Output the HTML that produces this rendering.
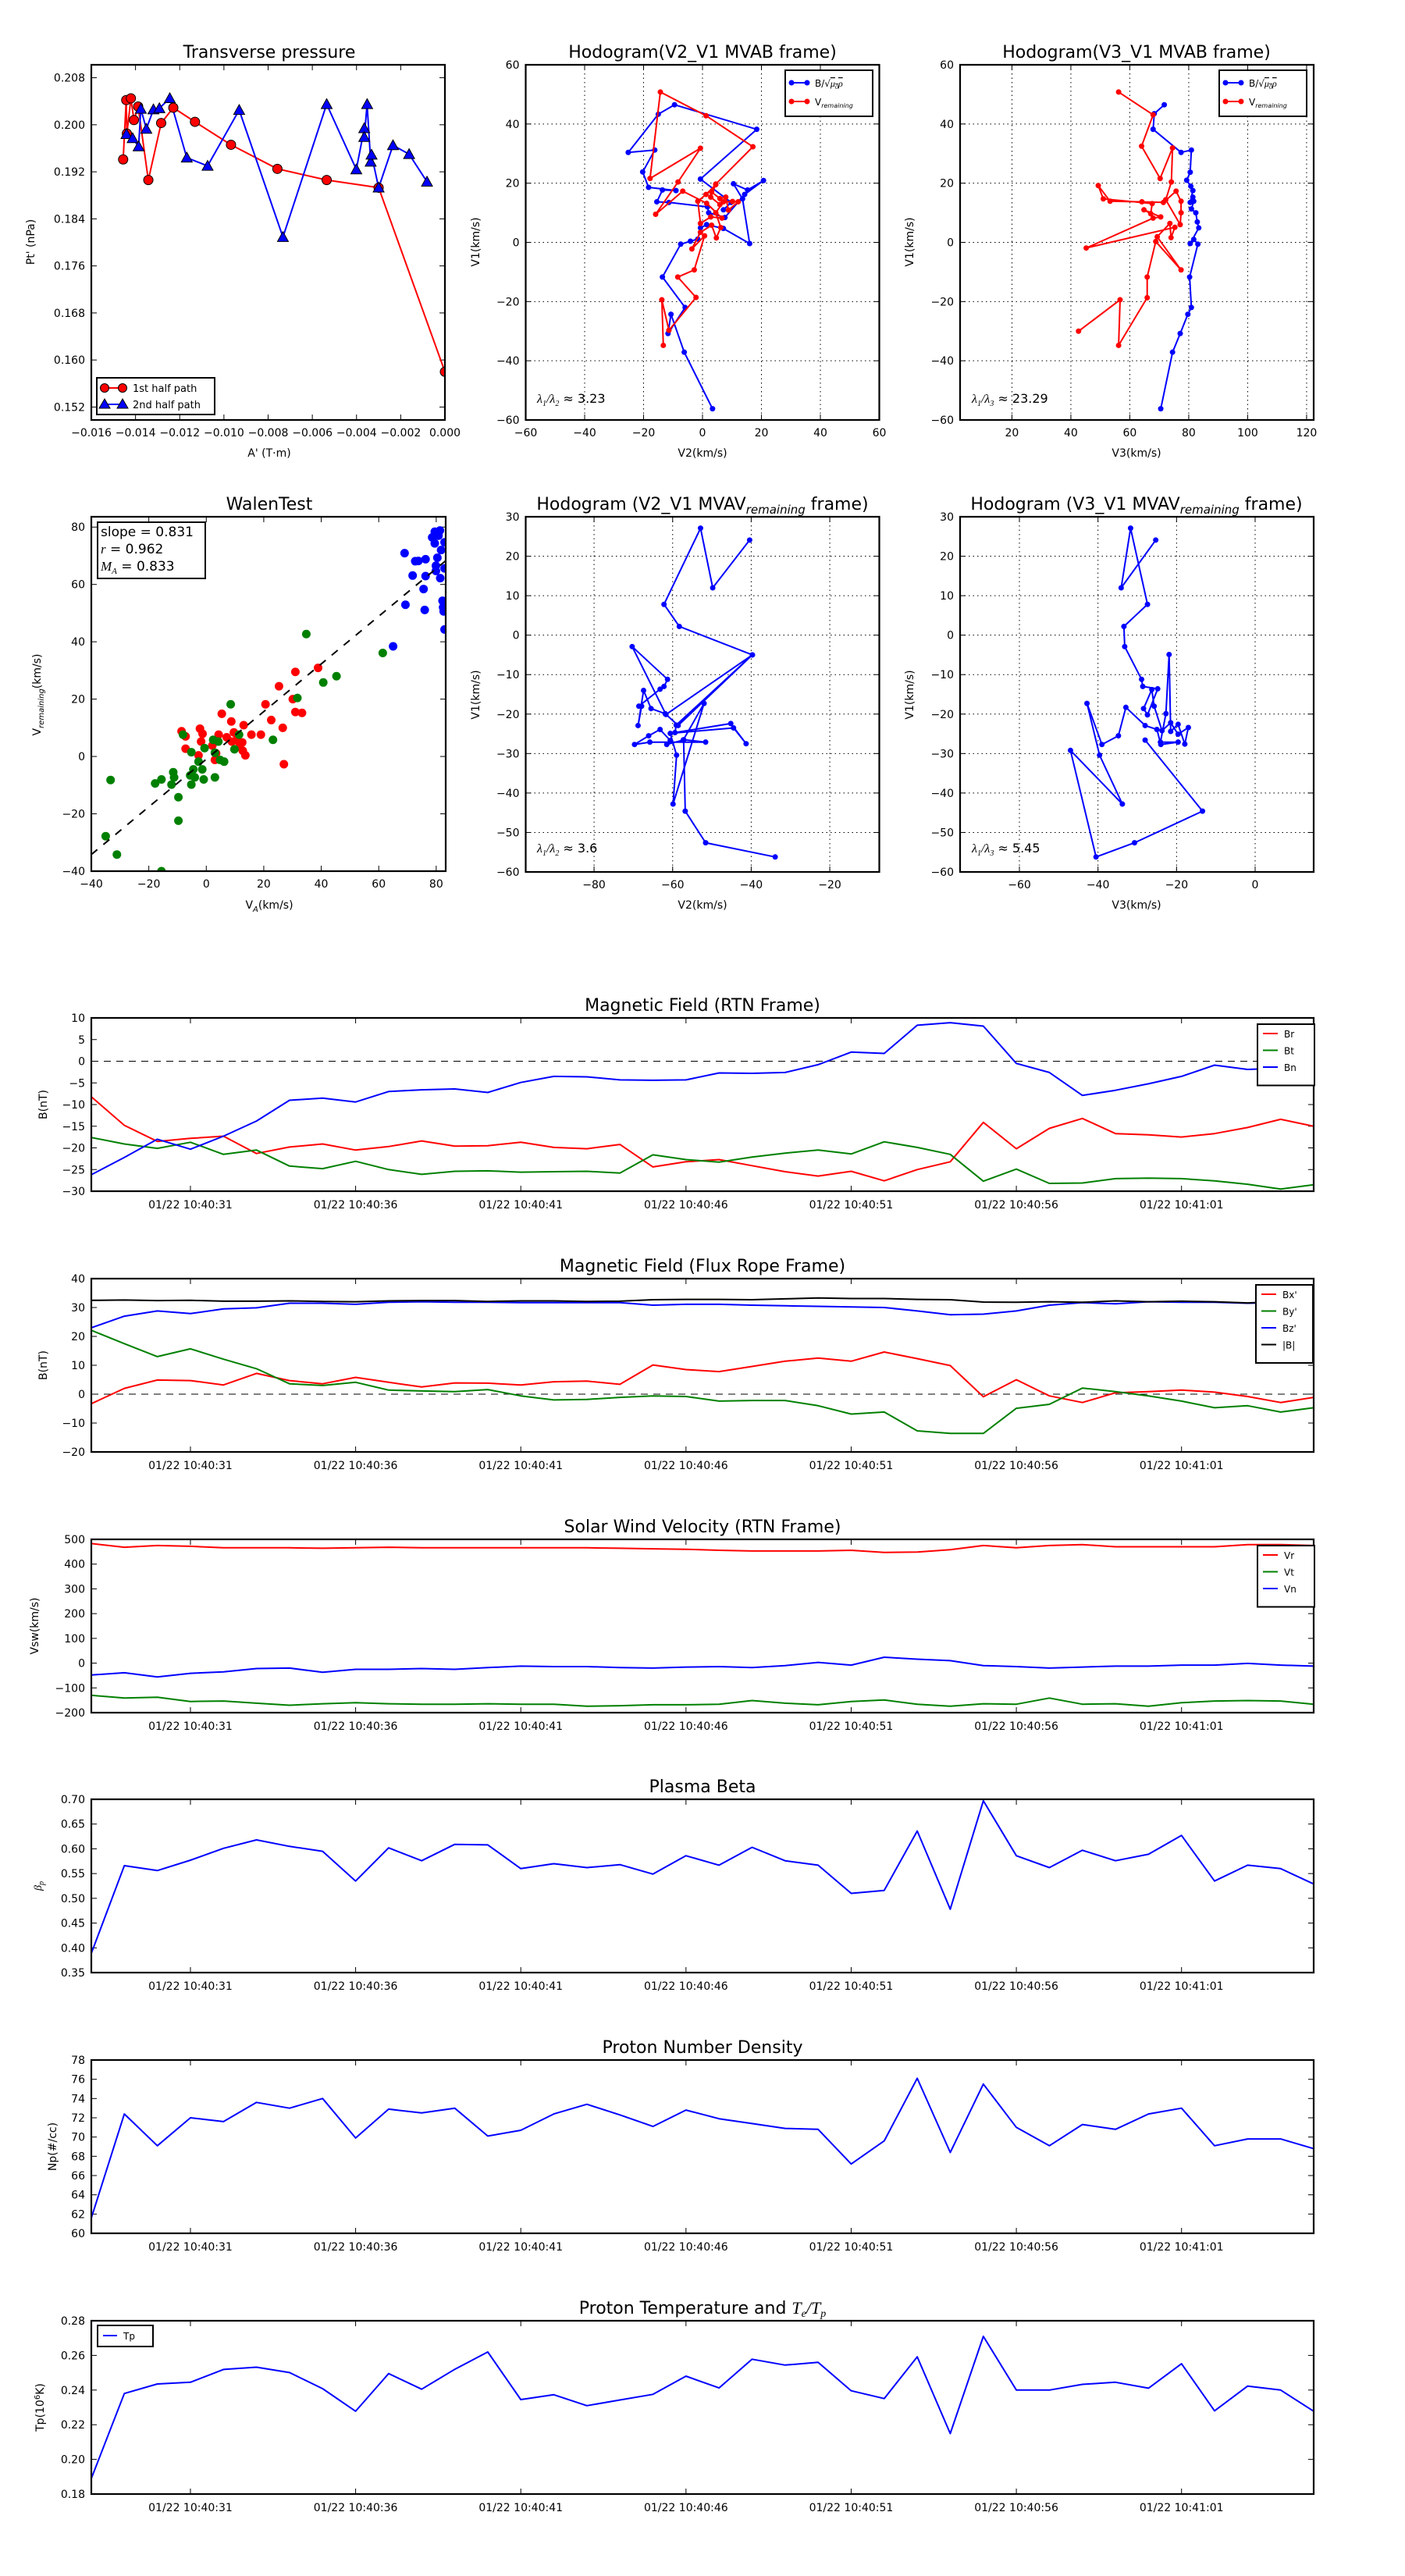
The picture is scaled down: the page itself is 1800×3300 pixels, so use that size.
<!DOCTYPE html>
<html><head><meta charset="utf-8">
<style>
html,body{margin:0;padding:0;background:#fff;}
svg{display:block;font-family:"DejaVu Sans","Liberation Sans",sans-serif;}
</style></head>
<body>
<svg id="fig" width="1800" height="3300" viewBox="0 0 1800 3300" xmlns="http://www.w3.org/2000/svg">
<rect x="0" y="0" width="1800" height="3300" fill="#fff"/>
<defs id="defs"></defs>
<!-- titles -->
<text x="345" y="74" font-size="22" text-anchor="middle">Transverse pressure</text>
<text x="900" y="74" font-size="22" text-anchor="middle">Hodogram(V2_V1 MVAB frame)</text>
<text x="1456" y="74" font-size="22" text-anchor="middle">Hodogram(V3_V1 MVAB frame)</text>
<text x="345" y="653" font-size="22" text-anchor="middle">WalenTest</text>
<text x="900" y="653" font-size="22" text-anchor="middle">Hodogram (V2_V1 MVAV<tspan font-style="italic" font-size="15" dy="5">remaining</tspan><tspan dy="-5"> frame)</tspan></text>
<text x="1456" y="653" font-size="22" text-anchor="middle">Hodogram (V3_V1 MVAV<tspan font-style="italic" font-size="15" dy="5">remaining</tspan><tspan dy="-5"> frame)</tspan></text>
<text x="900" y="1295" font-size="22" text-anchor="middle">Magnetic Field (RTN Frame)</text>
<text x="900" y="1629" font-size="22" text-anchor="middle">Magnetic Field (Flux Rope Frame)</text>
<text x="900" y="1963" font-size="22" text-anchor="middle">Solar Wind Velocity (RTN Frame)</text>
<text x="900" y="2296" font-size="22" text-anchor="middle">Plasma Beta</text>
<text x="900" y="2630" font-size="22" text-anchor="middle">Proton Number Density</text>
<text x="900" y="2964" font-size="22" text-anchor="middle">Proton Temperature and <tspan font-style="italic" font-family="Liberation Serif,serif">T<tspan font-size="14" dy="4">e</tspan><tspan dy="-4">/T</tspan><tspan font-size="14" dy="4">p</tspan></tspan></text>
<!-- axis labels -->
<text transform="translate(44,310) rotate(-90)" font-size="14" text-anchor="middle">Pt' (nPa)</text>
<text x="345" y="585" font-size="14" text-anchor="middle">A' (T·m)</text>
<text transform="translate(614,310) rotate(-90)" font-size="14" text-anchor="middle">V1(km/s)</text>
<text x="900" y="585" font-size="14" text-anchor="middle">V2(km/s)</text>
<text transform="translate(1170,310) rotate(-90)" font-size="14" text-anchor="middle">V1(km/s)</text>
<text x="1456" y="585" font-size="14" text-anchor="middle">V3(km/s)</text>
<text transform="translate(52,890) rotate(-90)" font-size="14" text-anchor="middle">V<tspan font-style="italic" font-size="10" dy="4">remaining</tspan><tspan dy="-4">(km/s)</tspan></text>
<text x="345" y="1164" font-size="14" text-anchor="middle">V<tspan font-style="italic" font-size="10" dy="4">A</tspan><tspan dy="-4">(km/s)</tspan></text>
<text transform="translate(614,890) rotate(-90)" font-size="14" text-anchor="middle">V1(km/s)</text>
<text x="900" y="1164" font-size="14" text-anchor="middle">V2(km/s)</text>
<text transform="translate(1170,890) rotate(-90)" font-size="14" text-anchor="middle">V1(km/s)</text>
<text x="1456" y="1164" font-size="14" text-anchor="middle">V3(km/s)</text>
<text transform="translate(60,1415) rotate(-90)" font-size="14" text-anchor="middle">B(nT)</text>
<text transform="translate(60,1749) rotate(-90)" font-size="14" text-anchor="middle">B(nT)</text>
<text transform="translate(49,2083) rotate(-90)" font-size="14" text-anchor="middle">Vsw(km/s)</text>
<text transform="translate(53,2416) rotate(-90)" font-size="14" text-anchor="middle" font-style="italic" font-family="Liberation Serif,serif">β<tspan font-size="10" dy="3">p</tspan></text>
<text transform="translate(72,2750) rotate(-90)" font-size="14" text-anchor="middle">Np(#/cc)</text>
<text transform="translate(56,3084) rotate(-90)" font-size="14" text-anchor="middle">Tp(10<tspan font-size="10" dy="-5">6</tspan><tspan dy="5">K)</tspan></text>
</svg>
<script>
// ---------- DATA ----------
const TP_RED_X = [-0.01456,-0.01442,-0.01439,-0.01421,-0.01407,-0.01388,-0.01342,-0.01284,-0.01229,-0.01131,-0.00968,-0.00758,-0.00535,-0.0030,0.0];
const TP_RED_Y = [0.1941,0.2042,0.1985,0.2045,0.2008,0.2031,0.1906,0.2003,0.2029,0.2005,0.1966,0.1925,0.1906,0.1893,0.158];
const TP_BLUE_X = [-0.01441,-0.01413,-0.01386,-0.01376,-0.01351,-0.01319,-0.01292,-0.01245,-0.01168,-0.01074,-0.00931,-0.00733,-0.00535,-0.00401,-0.00365,-0.00365,-0.00352,-0.00336,-0.00332,-0.0030,-0.00235,-0.00162,-0.00081];
const TP_BLUE_Y = [0.1984,0.1977,0.1963,0.2027,0.1993,0.2026,0.2028,0.2045,0.1944,0.1930,0.2025,0.1809,0.2035,0.1924,0.1994,0.1979,0.2035,0.1937,0.1949,0.1893,0.1965,0.1950,0.1903];
const TP_YTICKS = [0.152,0.160,0.168,0.176,0.184,0.192,0.200,0.208];
const TP_XTICKS = [-0.016,-0.014,-0.012,-0.010,-0.008,-0.006,-0.004,-0.002,0.0];

const H1_B_X = [3.4,-6.2,-10.7,-11.7,-5.9,-13.6,-7.4,-4.1,-1.6,-0.7,1.4,7.1,16.0,13.6,10.5,15.3,20.7,14.3,7.6,2.1,1.7,-11.4,-15.5,-13.6,-9.0,-18.3,-20.3,-16.2,-25.2,-15.0,-9.5,18.4,-0.7,9.7,7.1];
const H1_B_Y = [-56.2,-37.1,-24.3,-30.8,-22.0,-11.7,-0.6,0.4,1.1,4.9,6.0,4.7,-0.4,14.7,19.8,17.7,20.9,16.2,8.4,10.0,12.0,13.5,13.7,17.7,17.5,18.6,23.8,31.2,30.4,43.3,46.5,38.2,21.4,13.5,11.0];
const H1_R_X = [-13.3,-13.8,-11.4,-2.2,-8.4,-2.8,0.7,-3.6,-0.7,3.1,4.7,6.2,4.5,7.1,10.2,12.1,8.8,7.9,5.9,3.1,4.5,1.2,-1.6,-0.7,2.8,6.6,1.4,-6.7,-15.9,-8.3,-0.7,-17.8,-14.3,1.2,17.1,4.5,2.8,5.9];
const H1_R_Y = [-34.8,-19.4,-29.7,-18.6,-11.7,-9.3,2.2,-2.2,3.4,5.8,1.5,5.0,10.0,13.7,13.8,13.7,10.9,15.3,14.8,17.0,19.5,16.2,13.9,6.4,8.6,8.2,13.2,17.3,9.5,20.4,31.8,21.6,50.8,42.8,32.3,19.7,15.3,12.8];
const H2_B_X = [70.5,74.5,77.1,79.7,80.9,80.3,83.1,81.7,80.5,83.4,82.9,82.4,80.9,81.7,81.4,80.5,81.4,80.7,79.3,80.5,80.9,77.4,67.9,68.3,71.7];
const H2_B_Y = [-56.2,-37.1,-30.8,-24.3,-22.0,-11.7,-0.6,1.0,-0.4,4.9,6.9,10.0,11.3,13.9,15.3,13.5,17.5,19.0,21.0,23.7,31.2,30.4,38.2,43.5,46.5];
const H2_R_X = [42.6,56.7,56.2,65.9,65.9,68.8,77.4,69.3,73.6,74.0,75.3,45.2,67.9,70.5,64.8,67.1,67.6,51.0,49.3,53.3,64.1,71.4,75.7,77.4,77.4,77.1,72.2,74.1,74.5,70.3,64.0,67.9,56.2];
const H2_R_Y = [-30.0,-19.4,-34.8,-18.7,-11.7,0.3,-9.3,1.9,6.4,1.6,5.1,-1.9,8.2,8.6,11.0,9.7,13.1,14.7,19.2,13.9,13.7,13.5,17.3,13.9,10.0,6.0,14.4,20.4,31.9,21.6,32.5,43.1,50.8];

const WALEN_RED_X = [-8.6,-7.2,-7.2,-2.2,-1.3,-1.8,-2.7,3.0,2.1,4.3,5.4,7.1,8.7,9.6,8.9,10.5,12.5,11.6,12.7,13.6,13.0,15.7,19.0,20.6,22.6,25.3,26.6,27.0,30.1,31.0,31.0,33.3,38.9,3.4,10.7];
const WALEN_RED_Y = [8.8,7.0,2.7,9.7,7.9,5.2,0.4,-1.2,3.8,7.6,14.9,6.7,12.2,8.4,5.2,5.6,4.9,3.4,2.0,0.4,10.9,7.6,7.6,18.2,12.7,24.5,10.0,-2.7,20.0,29.5,15.5,15.2,30.9,1.1,7.5];
const WALEN_GREEN_X = [-33.3,-35.0,-31.1,-15.6,-17.8,-15.6,-11.5,-11.2,-12.1,-9.7,-9.7,-8.1,-5.2,-5.6,-5.2,-4.0,-4.5,-2.7,-1.4,-0.9,-0.6,3.0,3.0,2.4,4.2,4.8,6.2,8.5,9.8,11.4,23.2,31.7,34.8,40.7,45.3,61.4];
const WALEN_GREEN_Y = [-8.2,-27.8,-34.2,-40.0,-9.4,-8.0,-5.5,-7.3,-9.8,-14.2,-22.4,7.6,1.5,-6.6,-9.8,-7.3,-4.5,-1.8,-4.5,-8.0,2.9,-7.3,1.3,5.8,5.2,-1.2,-1.8,18.2,2.5,7.6,5.8,20.4,42.7,25.8,28.0,36.1];
const WALEN_BLUE_X = [65.0,69.0,69.3,71.8,72.7,73.8,75.6,76.0,76.3,76.3,78.6,79.5,79.9,79.9,80.4,80.8,81.3,81.4,81.7,82.2,82.4,82.6,82.9,82.9,82.9,79.5];
const WALEN_BLUE_Y = [38.4,70.9,52.9,63.1,68.1,68.2,58.4,51.1,68.8,62.9,76.4,78.4,66.5,64.7,69.3,77.0,78.8,62.2,72.0,54.3,52.0,50.6,44.3,74.7,65.6,74.3];
const WALEN_SLOPE = 0.831;
const WALEN_INTERCEPT = -0.96;

const H3_X = [-33.9,-51.6,-56.8,-57.2,-51.6,-65.8,-69.7,-66.1,-63.2,-60.6,-61.5,-57.3,-52.0,-59.9,-59.0,-60.6,-44.5,-41.3,-45.2,-59.4,-59.1,-39.7,-61.7,-70.3,-61.3,-62.2,-63.2,-68.6,-67.9,-68.8,-67.4,-65.5,-61.9,-58.6,-39.7,-58.3,-62.2,-52.9,-49.8,-40.4];
const H3_Y = [-56.2,-52.6,-44.6,-26.5,-27.1,-27.1,-27.7,-25.5,-23.9,-26.7,-27.7,-26.6,-17.3,-42.8,-30.4,-24.9,-23.5,-27.5,-22.4,-24.7,-22.8,-5.0,-20.1,-2.9,-11.2,-13.0,-13.7,-18.0,-18.0,-22.9,-14.0,-18.6,-19.9,-22.9,-5.0,2.2,7.8,27.1,12.0,24.1];
const H4_X = [-25.3,-34.1,-31.7,-27.4,-33.4,-33.2,-28.9,-28.6,-24.8,-27.4,-28.4,-26.3,-25.7,-23.7,-21.5,-19.6,-17.0,-17.9,-19.6,-21.5,-21.9,-22.7,-24.1,-19.6,-24.0,-25.0,-28.0,-32.9,-34.8,-39.0,-42.8,-39.6,-33.8,-47.0,-40.5,-30.7,-13.4,-28.0];
const H4_Y = [24.1,12.0,27.1,7.8,2.2,-2.9,-11.2,-13.0,-13.6,-20.2,-18.6,-13.8,-18.0,-24.2,-22.2,-25.1,-23.4,-27.6,-22.6,-24.4,-4.9,-19.9,-27.1,-27.1,-27.7,-23.9,-22.9,-18.3,-25.5,-27.7,-17.3,-30.4,-42.8,-29.2,-56.2,-52.6,-44.6,-26.6];

// time series (seconds after 01/22 10:40:28)
const T_SEC = [0,1,2,3,4,5,6,7,8,9,10,11,12,13,14,15,16,17,18,19,20,21,22,23,24,25,26,27,28,29,30,31,32,33,34,35,36,37];
const TIME_TICK_SEC = [3,8,13,18,23,28,33];
const TIME_TICK_LABELS = ['01/22 10:40:31','01/22 10:40:36','01/22 10:40:41','01/22 10:40:46','01/22 10:40:51','01/22 10:40:56','01/22 10:41:01'];
const BR = [-8.2,-14.8,-18.5,-17.8,-17.3,-21.3,-19.8,-19.1,-20.5,-19.7,-18.4,-19.6,-19.5,-18.7,-19.9,-20.2,-19.2,-24.4,-23.2,-22.7,-24.1,-25.5,-26.5,-25.4,-27.6,-25.0,-23.2,-14.1,-20.2,-15.5,-13.2,-16.7,-17.0,-17.5,-16.7,-15.3,-13.4,-15.0];
const BT = [-17.6,-19.1,-20.1,-18.7,-21.5,-20.5,-24.2,-24.8,-23.1,-25.0,-26.1,-25.4,-25.3,-25.6,-25.5,-25.4,-25.8,-21.6,-22.7,-23.3,-22.1,-21.2,-20.5,-21.4,-18.6,-19.9,-21.5,-27.7,-24.9,-28.2,-28.1,-27.1,-27.0,-27.1,-27.6,-28.4,-29.5,-28.5];
const BN = [-26.2,-22.2,-18.0,-20.3,-17.3,-13.8,-9.0,-8.5,-9.4,-7.0,-6.6,-6.4,-7.2,-4.9,-3.5,-3.6,-4.3,-4.4,-4.3,-2.7,-2.8,-2.6,-0.8,2.1,1.8,8.3,8.9,8.1,-0.5,-2.6,-7.9,-6.7,-5.2,-3.5,-0.9,-1.9,-1.6,-1.3];
const BXP = [-3.3,2.0,4.9,4.7,3.2,7.2,4.7,3.6,5.8,4.1,2.5,3.9,3.8,3.2,4.3,4.5,3.4,10.1,8.5,7.8,9.6,11.4,12.5,11.4,14.6,12.3,9.9,-0.9,5.0,-0.6,-2.9,0.5,0.9,1.4,0.7,-0.8,-2.9,-1.1];
const BYP = [22.1,17.5,13.0,15.7,12.1,8.8,3.6,3.0,4.1,1.4,1.1,0.9,1.6,-0.6,-2.0,-1.8,-1.1,-0.6,-0.8,-2.4,-2.2,-2.2,-4.0,-6.9,-6.2,-12.7,-13.6,-13.6,-4.9,-3.5,2.1,0.9,-0.6,-2.4,-4.7,-4.0,-6.2,-4.7];
const BZP = [23.0,27.0,28.8,27.9,29.5,29.9,31.5,31.5,31.1,31.8,32.0,31.8,31.8,31.7,31.7,31.7,31.7,30.8,31.1,31.1,30.8,30.6,30.4,30.2,30.0,28.8,27.5,27.7,28.8,30.8,31.7,31.3,32.0,31.8,31.8,31.5,31.7,32.0];
const BMAG = [32.5,32.6,32.4,32.5,32.2,32.2,32.3,32.1,32.0,32.3,32.4,32.4,32.1,32.3,32.3,32.1,32.2,32.7,32.8,32.8,32.7,33.0,33.3,33.1,33.1,32.8,32.7,31.9,31.8,32.0,31.8,32.3,32.0,32.2,32.0,31.6,32.1,32.0];
const VR = [483,468,475,472,466,466,466,464,466,468,466,466,466,466,466,466,464,462,460,456,453,453,453,456,447,449,458,475,466,475,479,470,470,470,470,479,479,475];
const VT = [-130,-141,-138,-155,-153,-162,-170,-164,-160,-164,-166,-166,-164,-166,-166,-174,-172,-168,-168,-166,-151,-162,-168,-155,-149,-166,-174,-164,-166,-141,-166,-164,-174,-160,-153,-151,-153,-166];
const VN = [-48,-39,-56,-41,-35,-22,-20,-37,-25,-25,-22,-25,-18,-12,-14,-14,-18,-20,-16,-14,-18,-10,3,-8,24,16,10,-10,-14,-20,-16,-12,-12,-8,-8,-1,-8,-12];
const BETA = [0.389,0.566,0.556,0.577,0.601,0.618,0.605,0.595,0.535,0.602,0.576,0.609,0.608,0.560,0.570,0.562,0.568,0.549,0.586,0.567,0.603,0.576,0.567,0.510,0.516,0.636,0.478,0.697,0.586,0.562,0.597,0.576,0.589,0.627,0.535,0.567,0.560,0.529];
const NP = [61.6,72.4,69.1,72.0,71.6,73.6,73.0,74.0,69.9,72.9,72.5,73.0,70.1,70.7,72.4,73.4,72.3,71.1,72.8,71.9,71.4,70.9,70.8,67.2,69.6,76.1,68.4,75.5,71.0,69.1,71.3,70.8,72.4,73.0,69.1,69.8,69.8,68.8];
const TP = [0.189,0.238,0.2435,0.2445,0.2519,0.2532,0.2501,0.2408,0.2278,0.2495,0.2405,0.252,0.262,0.2345,0.2373,0.231,0.2343,0.2375,0.248,0.2412,0.2578,0.2544,0.256,0.2396,0.2351,0.2592,0.2149,0.271,0.24,0.24,0.2433,0.2445,0.2411,0.2552,0.228,0.2423,0.24,0.2278];

// ---------- DRAWING ----------
const NS = 'http://www.w3.org/2000/svg';
const svg = document.getElementById('fig');
const defs = document.getElementById('defs');
const RED = '#ff0000', GREEN = '#008000', BLUE = '#0000ff';

function add(tag, attrs, name, parent) {
  const e = document.createElementNS(NS, tag);
  for (const k in attrs) e.setAttribute(k, attrs[k]);
  
  
  (parent || svg).appendChild(e);
  return e;
}
function fmtNum(v, d) { const s = Math.abs(v).toFixed(d); return (v < -1e-12 ? '\u2212' : '') + s; }

function makeAxes(id, x, y, w, h, xr, yr, o) {
  const g = add('g', {}, id, svg);
  const cp = document.createElementNS(NS, 'clipPath');
  cp.setAttribute('id', 'clip-' + id);
  const cr = document.createElementNS(NS, 'rect');
  cr.setAttribute('x', x); cr.setAttribute('y', y); cr.setAttribute('width', w); cr.setAttribute('height', h);
  cp.appendChild(cr); defs.appendChild(cp);
  const sx = v => x + (v - xr[0]) / (xr[1] - xr[0]) * w;
  const sy = v => y + h - (v - yr[0]) / (yr[1] - yr[0]) * h;
  if (o.grid) {
    o.xticks.forEach(t => { const X = sx(t); if (X > x + 1 && X < x + w - 1) add('line', {x1: X, x2: X, y1: y, y2: y + h, stroke: '#000', 'stroke-width': 1, 'stroke-dasharray': '1.5,4'}, 'grid-line-x', g); });
    o.yticks.forEach(t => { const Y = sy(t); if (Y > y + 1 && Y < y + h - 1) add('line', {x1: x, x2: x + w, y1: Y, y2: Y, stroke: '#000', 'stroke-width': 1, 'stroke-dasharray': '1.5,4'}, 'grid-line-y', g); });
  }
  o.xticks.forEach((t, i) => {
    const X = sx(t);
    add('line', {x1: X, x2: X, y1: y + h, y2: y + h - 7, stroke: '#000', 'stroke-width': 1}, 'x-tick', g);
    add('line', {x1: X, x2: X, y1: y, y2: y + 7, stroke: '#000', 'stroke-width': 1}, 'x-tick', g);
    const lab = add('text', {x: X, y: y + h + (o.xLabDy || 21), 'font-size': 14, 'text-anchor': 'middle'}, 'x-tick-label', g);
    lab.textContent = o.xlabels ? o.xlabels[i] : fmtNum(t, o.xd || 0);
  });
  o.yticks.forEach((t, i) => {
    const Y = sy(t);
    add('line', {x1: x, x2: x + 7, y1: Y, y2: Y, stroke: '#000', 'stroke-width': 1}, 'y-tick', g);
    add('line', {x1: x + w, x2: x + w - 7, y1: Y, y2: Y, stroke: '#000', 'stroke-width': 1}, 'y-tick', g);
    const lab = add('text', {x: x - 8, y: Y + 5, 'font-size': 14, 'text-anchor': 'end'}, 'y-tick-label', g);
    lab.textContent = fmtNum(t, o.yd || 0);
  });
  const plot = add('g', {'clip-path': 'url(#clip-' + id + ')'}, id + '-plot-area', g);
  return {g, plot, sx, sy, frame: () => add('rect', {x: x, y: y, width: w, height: h, fill: 'none', stroke: '#000', 'stroke-width': 2.2}, id + '-frame', g)};
}
function pts(ax, X, Y) { return X.map((v, i) => ax.sx(v).toFixed(1) + ',' + ax.sy(Y[i]).toFixed(1)).join(' '); }
function polyline(ax, X, Y, color, name, lw) {
  return add('polyline', {points: pts(ax, X, Y), fill: 'none', stroke: color, 'stroke-width': lw || 2, 'stroke-linejoin': 'round'}, name, ax.plot);
}
function dots(ax, X, Y, color, r, name, edge) {
  X.forEach((v, i) => {
    const c = add('circle', {cx: ax.sx(v), cy: ax.sy(Y[i]), r: r, fill: color}, name, ax.plot);
    if (edge) { c.setAttribute('stroke', '#000'); c.setAttribute('stroke-width', 1); }
  });
}
function tris(ax, X, Y, color, s, name) {
  X.forEach((v, i) => {
    const cx = ax.sx(v), cy = ax.sy(Y[i]);
    add('polygon', {points: `${cx},${cy - s} ${cx - s},${cy + s * 0.8} ${cx + s},${cy + s * 0.8}`, fill: color, stroke: '#000', 'stroke-width': 1}, name, ax.plot);
  });
}

// 1) Transverse pressure
(function () {
  const ax = makeAxes('transverse-pressure-chart', 117, 83, 453, 455, [-0.016, 0], [0.1498, 0.2102], {xticks: TP_XTICKS, yticks: TP_YTICKS, xd: 3, yd: 3});
  polyline(ax, TP_RED_X, TP_RED_Y, RED, '1st-half-path-line');
  polyline(ax, TP_BLUE_X, TP_BLUE_Y, BLUE, '2nd-half-path-line');
  dots(ax, TP_RED_X, TP_RED_Y, RED, 6, '1st-half-point', true);
  tris(ax, TP_BLUE_X, TP_BLUE_Y, BLUE, 7, '2nd-half-point');
  ax.frame();
  const lg = add('g', {}, 'pressure-legend', svg);
  add('rect', {x: 124, y: 484, width: 151, height: 47, fill: '#fff', stroke: '#000', 'stroke-width': 2}, 'legend-box', lg);
  add('line', {x1: 134, x2: 157, y1: 497, y2: 497, stroke: RED, 'stroke-width': 2}, 'legend-line-1st', lg);
  add('circle', {cx: 134, cy: 497, r: 5.5, fill: RED, stroke: '#000'}, 'legend-marker-1st', lg);
  add('circle', {cx: 157, cy: 497, r: 5.5, fill: RED, stroke: '#000'}, 'legend-marker-1st', lg);
  add('text', {x: 170, y: 502, 'font-size': 13}, 'legend-entry-1st-half', lg).textContent = '1st half path';
  add('line', {x1: 134, x2: 157, y1: 518, y2: 518, stroke: BLUE, 'stroke-width': 2}, 'legend-line-2nd', lg);
  add('polygon', {points: '134,511 127,523 141,523', fill: BLUE, stroke: '#000'}, 'legend-marker-2nd', lg);
  add('polygon', {points: '157,511 150,523 164,523', fill: BLUE, stroke: '#000'}, 'legend-marker-2nd', lg);
  add('text', {x: 170, y: 523, 'font-size': 13}, 'legend-entry-2nd-half', lg).textContent = '2nd half path';
})();

function hodoLegend(x, y, prefix) {
  const lg = add('g', {}, prefix + '-legend', svg);
  add('rect', {x: x, y: y, width: 112, height: 59, fill: '#fff', stroke: '#000', 'stroke-width': 2}, 'legend-box', lg);
  [[BLUE, 16], [RED, 40]].forEach(function (c) {
    add('line', {x1: x + 8, x2: x + 28, y1: y + c[1], y2: y + c[1], stroke: c[0], 'stroke-width': 2}, 'legend-line', lg);
    add('circle', {cx: x + 8, cy: y + c[1], r: 3.5, fill: c[0]}, 'legend-marker', lg);
    add('circle', {cx: x + 28, cy: y + c[1], r: 3.5, fill: c[0]}, 'legend-marker', lg);
  });
  const t1 = add('text', {x: x + 38, y: y + 21, 'font-size': 12}, 'legend-entry-b-alfven', lg);
  t1.innerHTML = 'B/√<tspan font-style="italic" font-family="Liberation Serif,serif" text-decoration="overline">μ<tspan font-size="8" dy="3">0</tspan><tspan dy="-3">ρ</tspan></tspan>';
  const t2 = add('text', {x: x + 38, y: y + 45, 'font-size': 12}, 'legend-entry-v-remaining', lg);
  t2.innerHTML = 'V<tspan font-style="italic" font-size="8" dy="3">remaining</tspan>';
}
function lambdaText(x, y, sub, val, name) {
  const t = add('text', {x: x, y: y, 'font-size': 16}, name, svg);
  t.innerHTML = '<tspan font-style="italic" font-family="Liberation Serif,serif">λ<tspan font-size="10" dy="4">1</tspan><tspan dy="-4">/λ</tspan><tspan font-size="10" dy="4">' + sub + '</tspan></tspan><tspan dy="-4"> ≈ ' + val + '</tspan>';
}
const T60 = [-60,-40,-20,0,20,40,60];

// 2) Hodogram V2 MVAB
(function () {
  const ax = makeAxes('hodogram-v2-mvab', 673.5, 83, 453, 455, [-60, 60], [-60, 60], {xticks: T60, yticks: T60, grid: true});
  polyline(ax, H1_B_X, H1_B_Y, BLUE, 'b-alfven-path');
  dots(ax, H1_B_X, H1_B_Y, BLUE, 3.5, 'b-alfven-point');
  polyline(ax, H1_R_X, H1_R_Y, RED, 'v-remaining-path');
  dots(ax, H1_R_X, H1_R_Y, RED, 3.5, 'v-remaining-point');
  ax.frame();
  hodoLegend(1006, 90, 'hodogram-v2-mvab');
  lambdaText(688, 516, '2', '3.23', 'eigenvalue-ratio-v2');
})();
// 3) Hodogram V3 MVAB
(function () {
  const ax = makeAxes('hodogram-v3-mvab', 1230, 83, 453, 455, [2.4, 122.4], [-60, 60], {xticks: [20,40,60,80,100,120], yticks: T60, grid: true});
  polyline(ax, H2_B_X, H2_B_Y, BLUE, 'b-alfven-path');
  dots(ax, H2_B_X, H2_B_Y, BLUE, 3.5, 'b-alfven-point');
  polyline(ax, H2_R_X, H2_R_Y, RED, 'v-remaining-path');
  dots(ax, H2_R_X, H2_R_Y, RED, 3.5, 'v-remaining-point');
  ax.frame();
  hodoLegend(1562, 90, 'hodogram-v3-mvab');
  lambdaText(1245, 516, '3', '23.29', 'eigenvalue-ratio-v3');
})();
// 4) Walen test
(function () {
  const T = [-40,-20,0,20,40,60,80];
  const ax = makeAxes('walen-test', 117, 662, 454, 454, [-40, 83.3], [-40, 83.6], {xticks: T, yticks: T});
  dots(ax, WALEN_RED_X, WALEN_RED_Y, RED, 5.5, 'walen-point-red');
  dots(ax, WALEN_GREEN_X, WALEN_GREEN_Y, GREEN, 5.5, 'walen-point-green');
  dots(ax, WALEN_BLUE_X, WALEN_BLUE_Y, BLUE, 5.5, 'walen-point-blue');
  add('line', {x1: ax.sx(-40), y1: ax.sy(-40 * WALEN_SLOPE + WALEN_INTERCEPT), x2: ax.sx(83.3), y2: ax.sy(83.3 * WALEN_SLOPE + WALEN_INTERCEPT), stroke: '#000', 'stroke-width': 2, 'stroke-dasharray': '10,10'}, 'walen-fit-line', ax.plot);
  ax.frame();
  const b = add('g', {}, 'walen-stats-box', svg);
  add('rect', {x: 125, y: 669, width: 138, height: 72, fill: '#fff', stroke: '#000', 'stroke-width': 2}, 'stats-box-frame', b);
  add('text', {x: 129, y: 687, 'font-size': 17}, 'slope-text', b).textContent = 'slope = 0.831';
  add('text', {x: 129, y: 709, 'font-size': 17}, 'r-text', b).innerHTML = '<tspan font-style="italic" font-family="Liberation Serif,serif">r</tspan> = 0.962';
  add('text', {x: 129, y: 731, 'font-size': 17}, 'ma-text', b).innerHTML = '<tspan font-style="italic" font-family="Liberation Serif,serif">M<tspan font-size="11" dy="4">A</tspan></tspan><tspan dy="-4"> = 0.833</tspan>';
})();
// 5) Hodogram V2 MVAV
(function () {
  const ax = makeAxes('hodogram-v2-mvav', 673.5, 662, 453, 455, [-97.4, -7.4], [-60, 30], {xticks: [-80,-60,-40,-20], yticks: [-60,-50,-40,-30,-20,-10,0,10,20,30], grid: true});
  polyline(ax, H3_X, H3_Y, BLUE, 'hodogram-path');
  dots(ax, H3_X, H3_Y, BLUE, 3.5, 'hodogram-point');
  ax.frame();
  lambdaText(688, 1092, '2', '3.6', 'eigenvalue-ratio-v2-mvav');
})();
// 6) Hodogram V3 MVAV
(function () {
  const ax = makeAxes('hodogram-v3-mvav', 1230, 662, 453, 455, [-75.1, 14.9], [-60, 30], {xticks: [-60,-40,-20,0], yticks: [-60,-50,-40,-30,-20,-10,0,10,20,30], grid: true});
  polyline(ax, H4_X, H4_Y, BLUE, 'hodogram-path');
  dots(ax, H4_X, H4_Y, BLUE, 3.5, 'hodogram-point');
  ax.frame();
  lambdaText(1245, 1092, '3', '5.45', 'eigenvalue-ratio-v3-mvav');
})();

// time series
function tsAxes(id, top, yr, yticks, yd) {
  return makeAxes(id, 117, top, 1566, 222, [0, 37], yr, {xticks: TIME_TICK_SEC, xlabels: TIME_TICK_LABELS, yticks: yticks, yd: yd, xLabDy: 22});
}
function zeroLine(ax, name) {
  add('line', {x1: ax.sx(0), x2: ax.sx(37), y1: ax.sy(0), y2: ax.sy(0), stroke: '#000', 'stroke-width': 1, 'stroke-dasharray': '9,7'}, name, ax.plot);
}
function tsLegend(x, y, entries, prefix) {
  const lg = add('g', {}, prefix + '-legend', svg);
  add('rect', {x: x, y: y, width: 73, height: 14 + entries.length * 21.5, fill: '#fff', stroke: '#000', 'stroke-width': 2}, 'legend-box', lg);
  entries.forEach(function (e, i) {
    const yy = y + 12 + i * 21.5;
    add('line', {x1: x + 7, x2: x + 26, y1: yy, y2: yy, stroke: e[1], 'stroke-width': 2}, 'legend-line', lg);
    add('text', {x: x + 34, y: yy + 5, 'font-size': 12}, 'legend-entry-' + e[2], lg).textContent = e[0];
  });
}
(function () {
  const ax = tsAxes('magnetic-rtn-chart', 1304, [-30, 10], [-30,-25,-20,-15,-10,-5,0,5,10], 0);
  zeroLine(ax, 'zero-line');
  polyline(ax, T_SEC, BR, RED, 'br-line');
  polyline(ax, T_SEC, BT, GREEN, 'bt-line');
  polyline(ax, T_SEC, BN, BLUE, 'bn-line');
  ax.frame();
  tsLegend(1611, 1312, [['Br', RED, 'br'], ['Bt', GREEN, 'bt'], ['Bn', BLUE, 'bn']], 'magnetic-rtn');
})();
(function () {
  const ax = tsAxes('magnetic-flux-rope-chart', 1638, [-20, 40], [-20,-10,0,10,20,30,40], 0);
  zeroLine(ax, 'zero-line');
  polyline(ax, T_SEC, BXP, RED, 'bx-prime-line');
  polyline(ax, T_SEC, BYP, GREEN, 'by-prime-line');
  polyline(ax, T_SEC, BZP, BLUE, 'bz-prime-line');
  polyline(ax, T_SEC, BMAG, '#000', 'b-magnitude-line');
  ax.frame();
  tsLegend(1609, 1646, [["Bx'", RED, 'bx'], ["By'", GREEN, 'by'], ["Bz'", BLUE, 'bz'], ['|B|', '#000', 'bmag']], 'magnetic-flux-rope');
})();
(function () {
  const ax = tsAxes('solar-wind-velocity-chart', 1972, [-200, 500], [-200,-100,0,100,200,300,400,500], 0);
  polyline(ax, T_SEC, VR, RED, 'vr-line');
  polyline(ax, T_SEC, VT, GREEN, 'vt-line');
  polyline(ax, T_SEC, VN, BLUE, 'vn-line');
  ax.frame();
  tsLegend(1611, 1980, [['Vr', RED, 'vr'], ['Vt', GREEN, 'vt'], ['Vn', BLUE, 'vn']], 'solar-wind-velocity');
})();
(function () {
  const ax = tsAxes('plasma-beta-chart', 2305, [0.35, 0.70], [0.35,0.40,0.45,0.50,0.55,0.60,0.65,0.70], 2);
  polyline(ax, T_SEC, BETA, BLUE, 'beta-line');
  ax.frame();
})();
(function () {
  const ax = tsAxes('proton-density-chart', 2639, [60, 78], [60,62,64,66,68,70,72,74,76,78], 0);
  polyline(ax, T_SEC, NP, BLUE, 'density-line');
  ax.frame();
})();
(function () {
  const ax = tsAxes('proton-temperature-chart', 2973, [0.18, 0.28], [0.18,0.20,0.22,0.24,0.26,0.28], 2);
  polyline(ax, T_SEC, TP, BLUE, 'temperature-line');
  ax.frame();
  const lg = add('g', {}, 'temperature-legend', svg);
  add('rect', {x: 125, y: 2979, width: 71, height: 27, fill: '#fff', stroke: '#000', 'stroke-width': 2}, 'legend-box', lg);
  add('line', {x1: 132, x2: 150, y1: 2992, y2: 2992, stroke: BLUE, 'stroke-width': 2}, 'legend-line', lg);
  add('text', {x: 158, y: 2997, 'font-size': 12}, 'legend-entry-tp', lg).textContent = 'Tp';
})();
</script>
</body></html>
